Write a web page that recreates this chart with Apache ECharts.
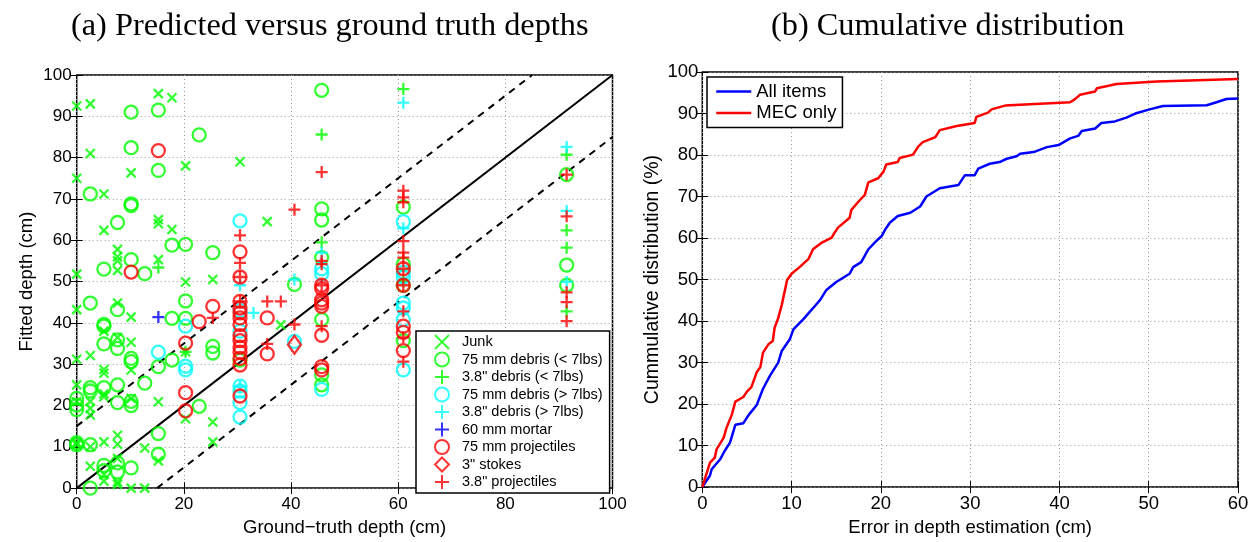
<!DOCTYPE html>
<html>
<head>
<meta charset="utf-8">
<script src="https://cdn.jsdelivr.net/npm/echarts@6/dist/echarts.min.js"></script>
<style>
html,body{margin:0;padding:0;background:#fff;}
#chart{width:1256px;height:542px;}
</style>
</head>
<body>
<div id="chart"></div>
<script>
// ---------- (a) scatter data: [ground truth depth, fitted depth] ----------
const junk = [
  [0,92.5],[0,75],[0,51.8],[0,43.2],[0,31.2],[0,25],[0,20.9],[0,11],[0,10.5],
  [2.54,93],[2.54,81],[2.54,32.1],[2.54,21],[2.54,19.3],[2.54,17.7],[2.54,10],[2.54,5.3],
  [5.08,71.2],[5.08,62.4],[5.08,38],[5.08,28.7],[5.08,27.8],[5.08,22.8],[5.08,22.1],[5.08,11.2],[5.08,3.3],[5.08,1.7],
  [7.62,57.8],[7.62,56],[7.62,55],[7.62,52.7],[7.62,44.8],[7.62,36.5],[7.62,12.8],[7.62,10.6],[7.62,7.2],[7.62,1.5],[7.62,0.9],
  [10.16,76.3],[10.16,41.4],[10.16,35.3],[10.16,28.6],[10.16,21.7],[10.16,0],
  [12.7,9.7],[12.7,0],
  [15.24,95.5],[15.24,65],[15.24,64],[15.24,55.3],[15.24,20.9],[15.24,6.6],
  [17.78,94.5],[17.78,62.6],
  [20.32,78],[20.32,49.9],[20.32,33],[20.32,16.8],
  [25.4,50.5],[25.4,16],[25.4,11.2],
  [30.48,79],[35.56,64.5],[38.1,39.5]
];
const debris75Light = [
  [0,21.7],[0,20.1],[0,19],[0,11],[0,10.5],
  [2.54,71.2],[2.54,44.8],[2.54,24.3],[2.54,23.5],[2.54,10.5],[2.54,0],
  [5.08,53],[5.08,39.6],[5.08,39.2],[5.08,34.9],[5.08,24.3],[5.08,5.5],[5.08,4.2],
  [7.62,64.3],[7.62,43.2],[7.62,35.9],[7.62,33.8],[7.62,25],[7.62,20.7],[7.62,6.1],[7.62,3.9],
  [10.16,91],[10.16,82.4],[10.16,68.8],[10.16,68.4],[10.16,55.3],[10.16,31.4],[10.16,30.6],[10.16,21],[10.16,20],[10.16,4.9],
  [12.7,51.9],[12.7,25.4],
  [15.24,91.5],[15.24,76.9],[15.24,29.4],[15.24,13.2],[15.24,8.2],
  [17.78,58.8],[17.78,41.1],[17.78,31],
  [20.32,59],[20.32,45.3],[20.32,41.1],
  [22.86,85.5],[22.86,19.8],
  [25.4,57],[25.4,34.3],[25.4,32.7],
  [30.48,31],
  [40.64,49.3],
  [45.72,96.3],[45.72,67.6],[45.72,64.9],[45.72,55.8],[45.72,40.8],[45.72,27.4],[45.72,25],
  [60.96,68],[60.96,54.2],[60.96,49.1],[60.96,35.7],
  [91.44,75.9],[91.44,54],[91.44,49.1]
];
const debris38Light = [
  [15.24,53.4],[20.32,33],
  [45.72,85.6],[45.72,59.5],
  [60.96,96.6],[60.96,50],
  [91.44,80.7],[91.44,62.4],[91.44,58.2],[91.44,42.8]
];
const debris75Heavy = [
  [15.24,32.9],
  [20.32,39.2],[20.32,29.5],[20.32,28.6],
  [30.48,64.7],[30.48,43],[30.48,38],[30.48,24.7],[30.48,23.5],[30.48,20.7],[30.48,17.2],
  [40.64,35.5],
  [45.72,53.1],[45.72,51.9],[45.72,23.9],
  [60.96,64.5],[60.96,52.3],[60.96,51.1],[60.96,44.8],[60.96,43.6],[60.96,40.8],[60.96,28.6]
];
const debris38Heavy = [
  [30.48,49.1],[30.48,24.5],[33,42.4],[40.64,50.5],[45.72,57],
  [60.96,93.3],[60.96,62.9],
  [91.44,82.6],[91.44,67.1],[91.44,49.9]
];
const mortar60 = [[15.24,41.4]];
const proj75 = [
  [10.16,52.3],[15.24,81.7],
  [20.32,35.1],[20.32,23.1],[20.32,18.7],
  [22.86,40.3],[25.4,44],
  [30.48,57.2],[30.48,51.1],[30.48,45.2],[30.48,43.6],[30.48,42.4],[30.48,41.2],[30.48,39.6],[30.48,36.9],[30.48,35.7],[30.48,34.1],[30.48,32.9],[30.48,31.4],[30.48,29.8],[30.48,22.3],
  [35.56,41.2],[35.56,32.5],
  [45.72,49.1],[45.72,48.3],[45.72,45.6],[45.72,44.8],[45.72,44],[45.72,37],[45.72,29.4],[45.72,28.6],
  [60.96,53.1],[60.96,49.1],[60.96,39.2],[60.96,37.7],[60.96,33.3]
];
const stokes3 = [[40.64,34.7]];
const proj38 = [
  [25.4,41.2],
  [30.48,61.2],[30.48,54.5],[30.48,51.1],[30.48,45.2],
  [35.56,45.2],[35.56,34.9],[38.1,45.2],
  [40.64,67.4],[40.64,39.6],
  [45.72,76.5],[45.72,55],[45.72,54.2],[45.72,49.1],[45.72,39.2],
  [60.96,72],[60.96,70.4],[60.96,69.2],[60.96,59.8],[60.96,57],[60.96,55.8],[60.96,53.1],[60.96,49.1],[60.96,42.8],[60.96,36.5],[60.96,30.6],
  [91.44,75.9],[91.44,65.8],[91.44,47.4],[91.44,45],[91.44,40.4]
];
// reference lines: y = x and +/- 15 cm band
const idealLine = [[0,0],[100,100]];
const upperBand = [[0,15],[85,100]];
const lowerBand = [[15,0],[100,85]];

// ---------- (b) cumulative distribution: [error (cm), cumulative %] ----------
const allItems = [[0,0],[0.86,2.8],[1.05,4.3],[2.0,6.7],[2.5,8.7],[3.1,10.7],[3.7,15],[4.6,15.4],[5.2,17.4],[6.1,19.8],[6.8,23.7],[7.6,26.9],[8.5,30],[8.9,32.8],[9.8,35.6],[10.2,38],[11.3,40.4],[12.4,43.1],[13.2,45.1],[13.9,47.5],[15.0,49.4],[16.5,51.4],[16.9,53],[17.8,54.2],[18.6,57.3],[19.5,59.3],[20.1,60.5],[20.5,62.1],[21.0,63.7],[21.9,65.3],[23.3,66.1],[24.4,67.6],[25.1,70],[26.6,72],[28.7,72.8],[29.4,75.1],[30.5,75.1],[30.9,76.7],[32.2,77.9],[33.3,78.3],[34.1,79.1],[35.2,79.7],[35.6,80.3],[37.1,80.7],[38.6,81.9],[39.9,82.4],[41.2,84],[42.1,84.6],[42.5,85.8],[44.0,86.4],[44.7,87.7],[46.2,88.1],[47.5,89],[48.5,90],[50.1,91],[51.6,91.8],[56.5,92],[57.6,92.7],[58.7,93.5],[60,93.6]];
const mecOnly = [[0,0],[0.86,5.9],[1.4,7.1],[1.6,9.1],[2.4,11.9],[2.7,14.2],[3.3,17.4],[3.7,20.6],[4.6,21.7],[5.0,23],[5.5,24.1],[6.1,27.7],[6.5,28.9],[6.8,32.4],[7.4,34.4],[7.9,35.2],[8.1,38.4],[8.5,40.7],[8.9,43.9],[9.5,49.9],[10.0,51.4],[10.9,53],[11.9,55],[12.4,57.3],[13.4,58.9],[14.5,60.1],[14.7,60.9],[15.2,62.5],[16.5,64.9],[16.7,66.8],[17.5,68.8],[18.2,70.4],[18.6,73.4],[19.7,74.4],[20.3,76],[20.6,77.7],[21.9,78.3],[22.1,79.3],[23.6,80.1],[24.2,82.1],[24.7,83.1],[26.1,84.3],[26.6,86],[28.5,87],[30.5,87.7],[30.7,89.2],[32.0,90.2],[32.4,91],[33.9,91.9],[41.2,92.7],[41.7,93.4],[42.3,94.5],[44,95.3],[44.2,96.1],[46.4,97.1],[50.9,97.7],[60,98.3]];

const titles = ['(a) Predicted versus ground truth depths', '(b) Cumulative distribution'];

// ---------- styling ----------
const SANS = 'Liberation Sans, Arial, sans-serif';
const SERIF = 'Liberation Serif, Times New Roman, serif';
const X_PATH = 'path://M0,0L10,10M10,0L0,10';
const PLUS_PATH = 'path://M5,0L5,10M0,5L10,5';
const GREEN = '#00ff00', CYAN = '#00ffff', BLUE = '#0000ff', RED = '#ff0000';

function mk(name, data, symbol, size, color) {
  return {
    name, type: 'scatter', xAxisIndex: 0, yAxisIndex: 0, data,
    symbol, symbolSize: size, z: 3,
    itemStyle: { color: 'rgba(0,0,0,0)', borderColor: color, borderWidth: 2.3 },
    emphasis: { disabled: true }, animation: false
  };
}
function refLine(data, dashed) {
  return {
    type: 'line', xAxisIndex: 0, yAxisIndex: 0, data, symbol: 'none', z: 2,
    lineStyle: { color: '#000', width: 2, type: dashed ? [7, 6] : 'solid' },
    silent: true, animation: false
  };
}
const split = { show: true, lineStyle: { color: '#9a9a9a', width: 1, type: [1, 3] } };
function valAxis(opts, showLabel, fontSize, margin, pos) {
  return Object.assign({
    type: 'value', position: pos,
    axisLine: { show: false },
    axisTick: { show: true, inside: true, length: 6, lineStyle: { color: '#000', width: 1 } },
    axisLabel: { show: showLabel, color: '#000', fontFamily: SANS, fontSize, margin },
    splitLine: showLabel ? split : { show: false }
  }, opts);
}

const chart = echarts.init(document.getElementById('chart'), null, { renderer: 'canvas' });
chart.setOption({
  backgroundColor: '#fff',
  animation: false,
  title: [
    { text: titles[0], left: 66, top: 6, textStyle: { fontFamily: SERIF, fontWeight: 'normal', fontSize: 32.3, color: '#000' } },
    { text: titles[1], left: 766, top: 6, textStyle: { fontFamily: SERIF, fontWeight: 'normal', fontSize: 32.3, color: '#000' } }
  ],
  grid: [
    { left: 76.7, top: 75, width: 535.8, height: 422.5, show: true, borderColor: '#000', borderWidth: 1.5, backgroundColor: '#fff', containLabel: false },
    { left: 702.3, top: 72, width: 535.7, height: 421.3, show: true, borderColor: '#000', borderWidth: 1.5, backgroundColor: '#fff', containLabel: false }
  ],
  xAxis: [
    valAxis({ gridIndex: 0, min: 0, max: 100, interval: 20, name: 'Ground\u2212truth depth (cm)', nameLocation: 'middle', nameGap: 26,
      nameTextStyle: { fontFamily: SANS, fontSize: 18.5, color: '#000' } }, true, 17, 8, 'bottom'),
    valAxis({ gridIndex: 0, min: 0, max: 100, interval: 20 }, false, 17, 8, 'top'),
    valAxis({ gridIndex: 1, min: 0, max: 60, interval: 10, name: 'Error in depth estimation (cm)', nameLocation: 'middle', nameGap: 24,
      nameTextStyle: { fontFamily: SANS, fontSize: 18.5, color: '#000' } }, true, 18.5, 7, 'bottom'),
    valAxis({ gridIndex: 1, min: 0, max: 60, interval: 10 }, false, 18, 7, 'top')
  ],
  yAxis: [
    valAxis({ gridIndex: 0, min: 0, max: 100, interval: 10, name: 'Fitted depth (cm)', nameLocation: 'middle', nameGap: 40,
      nameTextStyle: { fontFamily: SANS, fontSize: 18.5, color: '#000' } }, true, 17, 5, 'left'),
    valAxis({ gridIndex: 0, min: 0, max: 100, interval: 10 }, false, 17, 5, 'right'),
    valAxis({ gridIndex: 1, min: 0, max: 100, interval: 10, name: 'Cummulative distribution (%)', nameLocation: 'middle', nameGap: 40,
      nameTextStyle: { fontFamily: SANS, fontSize: 19.5, color: '#000' } }, true, 18.5, 4, 'left'),
    valAxis({ gridIndex: 1, min: 0, max: 100, interval: 10 }, false, 18, 4, 'right')
  ],
  legend: [
    {
      left: 416, top: 331, orient: 'vertical',
      data: ['Junk', '75 mm debris (< 7lbs)', '3.8" debris (< 7lbs)', '75 mm debris (> 7lbs)', '3.8" debris (> 7lbs)', '60 mm mortar', '75 mm projectiles', '3" stokes', '3.8" projectiles'],
      itemWidth: 14, itemHeight: 14, itemGap: 1.5,
      padding: [3, 7, 3, 18],
      backgroundColor: '#fff', borderColor: '#000', borderWidth: 1.5, borderRadius: 0,
      textStyle: { fontFamily: SANS, fontSize: 14.5, color: '#000', lineHeight: 14, padding: [0, 0, 0, 8] },
      selectedMode: false, z: 10
    },
    {
      left: 707, top: 77, orient: 'vertical',
      data: ['All items', 'MEC only'],
      itemWidth: 35, itemHeight: 19, itemGap: 2.6,
      padding: [5, 6, 5, 8],
      backgroundColor: '#fff', borderColor: '#000', borderWidth: 1.5, borderRadius: 0,
      itemStyle: { opacity: 0 },
      lineStyle: { opacity: 1, width: 2.5 },
      textStyle: { fontFamily: SANS, fontSize: 18.5, color: '#000', lineHeight: 19 },
      selectedMode: false, z: 10
    }
  ],
  series: [
    refLine(idealLine, false), refLine(upperBand, true), refLine(lowerBand, true),
    mk('Junk', junk, X_PATH, 9, GREEN),
    mk('75 mm debris (< 7lbs)', debris75Light, 'circle', 13, GREEN),
    mk('3.8" debris (< 7lbs)', debris38Light, PLUS_PATH, 12, GREEN),
    mk('75 mm debris (> 7lbs)', debris75Heavy, 'circle', 13, CYAN),
    mk('3.8" debris (> 7lbs)', debris38Heavy, PLUS_PATH, 12, CYAN),
    mk('60 mm mortar', mortar60, PLUS_PATH, 12, BLUE),
    mk('75 mm projectiles', proj75, 'circle', 13, RED),
    mk('3" stokes', stokes3, 'diamond', [13, 18], RED),
    mk('3.8" projectiles', proj38, PLUS_PATH, 12, RED),
    { name: 'All items', type: 'line', xAxisIndex: 2, yAxisIndex: 2, data: allItems, symbol: 'none',
      lineStyle: { color: BLUE, width: 2.5 }, itemStyle: { color: BLUE }, z: 3 },
    { name: 'MEC only', type: 'line', xAxisIndex: 2, yAxisIndex: 2, data: mecOnly, symbol: 'none',
      lineStyle: { color: RED, width: 2.5 }, itemStyle: { color: RED }, z: 3 }
  ]
});
</script>
</body>
</html>
